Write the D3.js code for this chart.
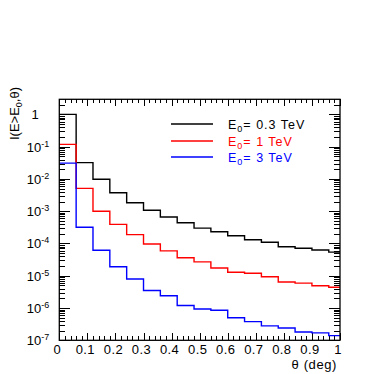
<!DOCTYPE html>
<html>
<head>
<meta charset="utf-8">
<script src="https://cdn.jsdelivr.net/npm/d3@7"></script>
<style>
  body { margin: 0; background: #fff; }
  svg { display: block; font-family: "Liberation Sans", Arial, sans-serif; }
</style>
</head>
<body>
<svg id="chart" width="390" height="374"></svg>
<script>
'use strict';

// bin edges in theta (deg), last bin clipped at 1
var binEdges = [0, 0.06, 0.12, 0.18, 0.24, 0.30, 0.36, 0.42, 0.48, 0.54, 0.60, 0.66, 0.72, 0.78, 0.84, 0.90, 0.96, 1.0];

var e03 = [1.0, 0.032, 0.0098, 0.00375, 0.00184, 0.00107, 6.6e-4, 4.4e-4, 3.0e-4, 2.3e-4, 1.74e-4, 1.31e-4, 1.09e-4, 7.9e-5, 7.1e-5, 6.3e-5, 5.4e-5];
var e1 = [0.118, 5.1e-3, 1.0e-3, 3.9e-4, 1.88e-4, 9.6e-5, 5.9e-5, 3.6e-5, 2.7e-5, 1.74e-5, 1.28e-5, 1.2e-5, 9.3e-6, 6.4e-6, 5.9e-6, 4.9e-6, 4.4e-6];
var e3 = [0.031, 3.2e-4, 6.2e-5, 1.9e-5, 7.9e-6, 3.5e-6, 2.4e-6, 1.2e-6, 9.3e-7, 8.5e-7, 5.0e-7, 3.8e-7, 2.8e-7, 2.4e-7, 1.8e-7, 1.7e-7, 1.4e-7];

var seriesNames = ['0.3', '1', '3'];
var seriesColors = ['#000000', '#ff0000', '#0000ff'];
var xTickLabels = ['0', '0.1', '0.2', '0.3', '0.4', '0.5', '0.6', '0.7', '0.8', '0.9', '1'];
var yDecades = [0, -1, -2, -3, -4, -5, -6, -7];

(function() {
  var svg = d3.select('#chart');
  var pLeft = 59.3, pRight = 340, pTop = 99.3, pBottom = 340.3;
  var yMax = 2.94;

  var x = d3.scaleLinear().domain([0, 1]).range([pLeft, pRight]);
  var y = d3.scaleLog().domain([1e-7, yMax]).range([pBottom, pTop]);

  var ticksG = svg.append('g').attr('stroke', '#000').attr('stroke-width', 1).attr('shape-rendering', 'crispEdges');

  // x ticks (bottom and top), every 0.02, long at 0.1
  d3.range(0, 51).forEach(function(i) {
    var len = (i % 5 === 0) ? 7 : 4;
    var px = Math.round(x(i * 0.02)) + 0.5;
    ticksG.append('line').attr('x1', px).attr('x2', px).attr('y1', pBottom).attr('y2', pBottom - len);
    ticksG.append('line').attr('x1', px).attr('x2', px).attr('y1', pTop).attr('y2', pTop + len);
  });

  // y ticks (left and right), log
  y.ticks().forEach(function(v) {
    if (v > yMax) return;
    var mant = Math.round(v / Math.pow(10, Math.floor(Math.log10(v) + 1e-9)));
    var len = (mant === 1) ? 11 : 6;
    var py = Math.round(y(v)) + 0.5;
    ticksG.append('line').attr('x1', pLeft).attr('x2', pLeft + len).attr('y1', py).attr('y2', py);
    ticksG.append('line').attr('x1', pRight).attr('x2', pRight - len).attr('y1', py).attr('y2', py);
  });

  // histograms
  [e03, e1, e3].forEach(function(vals, si) {
    var pts = [];
    vals.forEach(function(v, i) {
      pts.push([x(binEdges[i]), y(v)]);
      pts.push([x(binEdges[i + 1]), y(v)]);
    });
    svg.append('path')
      .attr('d', d3.line()(pts))
      .attr('fill', 'none')
      .attr('stroke', seriesColors[si])
      .attr('stroke-width', 1.4);
  });

  // frame
  svg.append('rect')
    .attr('x', pLeft).attr('y', pTop)
    .attr('width', pRight - pLeft).attr('height', pBottom - pTop)
    .attr('fill', 'none').attr('stroke', '#000').attr('stroke-width', 1.3);

  // x labels
  svg.append('g').selectAll('text').data(xTickLabels).enter().append('text')
    .attr('x', function(d) { return x(+d) - 2; })
    .attr('y', 354)
    .attr('text-anchor', 'middle')
    .attr('font-size', 13)
    .attr('letter-spacing', 0.4)
    .text(function(d) { return d; });

  // y labels
  yDecades.forEach(function(d) {
    var t = svg.append('text')
      .attr('x', 38)
      .attr('y', y(Math.pow(10, d)) + 5)
      .attr('text-anchor', 'middle')
      .attr('font-size', 13);
    if (d === 0) {
      t.attr('x', 35).text('1');
    } else {
      t.append('tspan').text('10');
      t.append('tspan').attr('dy', -5).attr('font-size', 9).text(String(d));
    }
  });

  // axis titles
  svg.append('text')
    .attr('x', 337).attr('y', 368.5)
    .attr('text-anchor', 'end')
    .attr('font-size', 13)
    .attr('letter-spacing', 0.6)
    .text('\u03b8 (deg)');

  var yt = svg.append('text')
    .attr('transform', 'translate(19,87) rotate(-90)')
    .attr('text-anchor', 'end')
    .attr('font-size', 13);
  yt.append('tspan').text('I(E>E');
  yt.append('tspan').attr('dy', 3).attr('font-size', 9).text('0');
  yt.append('tspan').attr('dy', -3).text(',\u03b8)');

  // legend
  var legY = [124, 141, 157];
  seriesNames.forEach(function(n, i) {
    svg.append('line')
      .attr('x1', 171).attr('x2', 213)
      .attr('y1', legY[i]).attr('y2', legY[i])
      .attr('stroke', seriesColors[i]).attr('stroke-width', 1.4);
    var t = svg.append('text')
      .attr('x', 228).attr('y', legY[i] + 4.5)
      .attr('font-size', 12.5)
      .attr('letter-spacing', 1)
      .attr('fill', seriesColors[i]);
    t.append('tspan').text('E');
    t.append('tspan').attr('dy', 3).attr('font-size', 9).text('0');
    t.append('tspan').attr('dy', -3).text('= ' + n + ' TeV');
  });
})();
</script>
</body>
</html>
